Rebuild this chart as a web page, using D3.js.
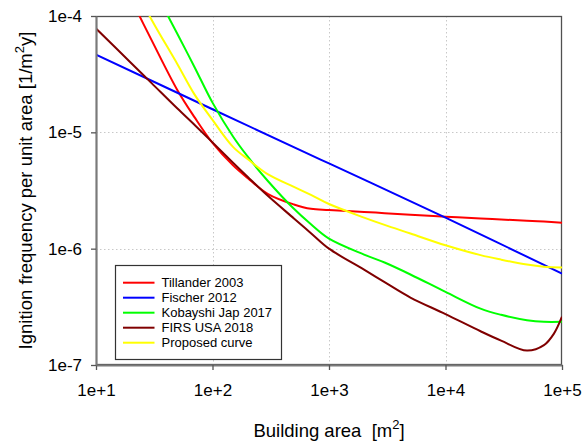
<!DOCTYPE html>
<html>
<head>
<meta charset="utf-8">
<script src="https://cdn.jsdelivr.net/npm/d3@7"></script>
<style>
  html, body { margin: 0; padding: 0; background: #fff; }
  svg { display: block; font-family: "Liberation Sans", Arial, sans-serif; }
  .pre { white-space: pre; }
</style>
</head>
<body>
<svg id="chart" width="582" height="442"></svg>
<script>
// Ignition frequency per unit area vs building area (log-log)

const tillanderArea = [20, 30, 50, 70, 100, 150, 200, 300, 500, 700, 1000, 2000, 3000, 5000, 10000, 20000, 30000, 50000, 70000, 100000];
const tillanderFreq = [1.4e-4, 6.2e-5, 2.3e-5, 1.35e-5, 8.1e-6, 5.2e-6, 4.05e-6, 2.95e-6, 2.4e-6, 2.2e-6, 2.15e-6, 2.07e-6, 2.02e-6, 1.96e-6, 1.88e-6, 1.82e-6, 1.78e-6, 1.74e-6, 1.71e-6, 1.67e-6];

const fischerArea = [10, 100, 1000, 10000, 100000];
const fischerFreq = [4.65e-5, 1.58e-5, 5.4e-6, 1.85e-6, 6.1e-7];

const kobayashiArea = [30, 50, 70, 100, 150, 200, 300, 500, 700, 1000, 2000, 3000, 5000, 10000, 20000, 30000, 50000, 70000, 100000];
const kobayashiFreq = [1.85e-4, 7.0e-5, 3.65e-5, 1.8e-5, 9.2e-6, 6.2e-6, 3.8e-6, 2.2e-6, 1.62e-6, 1.22e-6, 8.9e-7, 7.6e-7, 6.0e-7, 4.25e-7, 3.05e-7, 2.7e-7, 2.43e-7, 2.35e-7, 2.35e-7];

const firsArea = [10, 20, 30, 50, 70, 100, 150, 200, 300, 500, 700, 1000, 2000, 3000, 5000, 10000, 20000, 30000, 50000, 70000, 85000, 100000];
const firsFreq = [7.8e-5, 3.95e-5, 2.65e-5, 1.6e-5, 1.16e-5, 8.2e-6, 5.48e-6, 4.15e-6, 2.83e-6, 1.82e-6, 1.36e-6, 1.0e-6, 6.6e-7, 5.15e-7, 3.8e-7, 2.74e-7, 1.95e-7, 1.62e-7, 1.33e-7, 1.48e-7, 1.85e-7, 2.6e-7];

const proposedArea = [20, 30, 50, 70, 100, 150, 200, 300, 500, 700, 1000, 2000, 3000, 5000, 10000, 20000, 30000, 50000, 70000, 100000];
const proposedFreq = [2.0e-4, 9.3e-5, 3.85e-5, 2.12e-5, 1.28e-5, 7.5e-6, 5.9e-6, 4.35e-6, 3.4e-6, 2.9e-6, 2.42e-6, 1.85e-6, 1.6e-6, 1.35e-6, 1.07e-6, 8.8e-7, 8.05e-7, 7.3e-7, 7.0e-7, 6.9e-7];

const seriesNames = ["Tillander 2003", "Fischer 2012", "Kobayshi Jap 2017", "FIRS USA 2018", "Proposed curve"];
const seriesColors = ["#ff0000", "#0000ff", "#00ff00", "#800000", "#ffff00"];

const xTickValues = [1e1, 1e2, 1e3, 1e4, 1e5];
const xTickLabels = ["1e+1", "1e+2", "1e+3", "1e+4", "1e+5"];
const yTickValues = [1e-7, 1e-6, 1e-5, 1e-4];
const yTickLabels = ["1e-7", "1e-6", "1e-5", "1e-4"];

const series = [
  { name: seriesNames[0], color: seriesColors[0], xs: tillanderArea, ys: tillanderFreq },
  { name: seriesNames[1], color: seriesColors[1], xs: fischerArea, ys: fischerFreq },
  { name: seriesNames[2], color: seriesColors[2], xs: kobayashiArea, ys: kobayashiFreq },
  { name: seriesNames[3], color: seriesColors[3], xs: firsArea, ys: firsFreq },
  { name: seriesNames[4], color: seriesColors[4], xs: proposedArea, ys: proposedFreq }
];

const svg = d3.select("#chart");
const plot = { left: 96, right: 562, top: 16, bottom: 365 };

const x = d3.scaleLog().domain([1e1, 1e5]).range([plot.left, plot.right]);
const y = d3.scaleLog().domain([1e-7, 1e-4]).range([plot.bottom, plot.top]);

svg.append("defs").append("clipPath").attr("id", "plotClip")
  .append("rect")
  .attr("x", plot.left).attr("y", plot.top)
  .attr("width", plot.right - plot.left).attr("height", plot.bottom - plot.top);

// dotted grid at each decade
const grid = svg.append("g").attr("stroke", "#c8c8c8").attr("stroke-width", 1).attr("stroke-dasharray", "1.5,2.5");
grid.selectAll("line.vx").data(xTickValues.slice(1, -1)).join("line")
  .attr("x1", d => Math.round(x(d)) + 0.5).attr("x2", d => Math.round(x(d)) + 0.5)
  .attr("y1", plot.top).attr("y2", plot.bottom);
grid.selectAll("line.hy").data(yTickValues.slice(1, -1)).join("line")
  .attr("y1", d => Math.round(y(d)) + 0.5).attr("y2", d => Math.round(y(d)) + 0.5)
  .attr("x1", plot.left).attr("x2", plot.right);

// frame (top and right)
svg.append("rect")
  .attr("x", plot.left + 0.5).attr("y", plot.top + 0.5)
  .attr("width", plot.right - plot.left - 1).attr("height", plot.bottom - plot.top - 1)
  .attr("fill", "none").attr("stroke", "#505050").attr("stroke-width", 1.3);

// curves
const line = d3.line()
  .x(d => x(d[0]))
  .y(d => y(d[1]))
  .curve(d3.curveCatmullRom.alpha(0.5));

const curves = svg.append("g").attr("clip-path", "url(#plotClip)");
series.forEach(s => {
  curves.append("path")
    .datum(s.xs.map((a, i) => [a, s.ys[i]]))
    .attr("d", line)
    .attr("fill", "none")
    .attr("stroke", s.color)
    .attr("stroke-width", 2);
});

// axes
const xAxis = d3.axisBottom(x).tickValues(xTickValues)
  .tickFormat((d, i) => xTickLabels[i]).tickSizeOuter(0).tickSizeInner(5).tickPadding(14);
const yAxis = d3.axisLeft(y).tickValues(yTickValues)
  .tickFormat((d, i) => yTickLabels[i]).tickSizeOuter(0).tickSizeInner(5).tickPadding(9);

const gx = svg.append("g").attr("transform", `translate(0,${plot.bottom})`).call(xAxis);
const gy = svg.append("g").attr("transform", `translate(${plot.left},0)`).call(yAxis);
[gx, gy].forEach(g => {
  g.select(".domain").attr("stroke", "#7a7a7a").attr("stroke-width", 2);
  g.selectAll(".tick line").attr("stroke", "#555").attr("stroke-width", 1.3);
  g.selectAll(".tick text").attr("fill", "#000").attr("font-size", 17)
    .attr("font-family", "'Liberation Sans', Arial, sans-serif");
});

// axis titles
const xt = svg.append("text").attr("class", "pre")
  .attr("x", (plot.left + plot.right) / 2).attr("y", 437)
  .attr("text-anchor", "middle").attr("font-size", 18.5).attr("fill", "#000");
xt.append("tspan").text("Building area  [m");
xt.append("tspan").attr("font-size", 13).attr("dy", -8).text("2");
xt.append("tspan").attr("dy", 8).text("]");

const yt = svg.append("text")
  .attr("transform", `translate(32,${(plot.top + plot.bottom) / 2}) rotate(-90)`)
  .attr("text-anchor", "middle").attr("font-size", 18.5).attr("fill", "#000");
yt.append("tspan").text("Ignition frequency per unit area [1/m");
yt.append("tspan").attr("font-size", 13).attr("dy", -8).text("2");
yt.append("tspan").attr("dy", 8).text("y]");

// legend
const lg = svg.append("g");
lg.append("rect")
  .attr("x", 115.5).attr("y", 265.5).attr("width", 166).attr("height", 94)
  .attr("fill", "#fff").attr("stroke", "#333").attr("stroke-width", 1.2);
series.forEach((s, i) => {
  const yy = 282.7 + i * 15;
  lg.append("line").attr("x1", 123).attr("x2", 154.5).attr("y1", yy).attr("y2", yy)
    .attr("stroke", s.color).attr("stroke-width", 2);
  lg.append("text").attr("x", 161.5).attr("y", yy).attr("dy", "0.35em")
    .attr("font-size", 13).attr("fill", "#000").text(s.name);
});
</script>
</body>
</html>
